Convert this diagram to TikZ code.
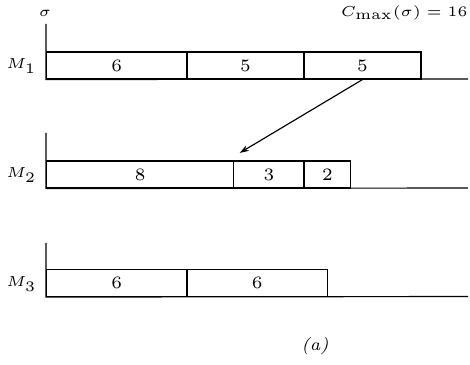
\documentclass[tikz,border=0pt]{standalone}
\usetikzlibrary{calc,arrows.meta}
\begin{document}
\begin{tikzpicture}[x=0.3448pt,y=-0.3448pt,
  every node/.style={font=\tiny},
  job/.style={draw,line width=0.4pt,inner sep=0pt,minimum height=9.31pt,anchor=west,font=\fontsize{6}{7}\selectfont},
  axis/.style={line width=0.4pt},
  mlabel/.style={anchor=east,inner sep=0pt}]
\useasboundingbox (0,0) rectangle (470,365);
% M1
\node[job,minimum width=48.41pt] (j11) at (46,65.5) {6};
\node[job,minimum width=40.34pt] (j12) at (186.4,65.5) {5};
\node[job,minimum width=40.34pt] (j13) at (303.4,65.5) {5};
% M2
\node[job,minimum width=64.55pt] (j21) at (46,174.5) {8};
\node[job,minimum width=24.21pt] (j22) at (233.2,174.5) {3};
\node[job,minimum width=16.14pt] (j23) at (303.4,174.5) {2};
% M3
\node[job,minimum width=48.41pt] (j31) at (46,283) {6};
\node[job,minimum width=48.41pt] (j32) at (186.4,283) {6};
% axes
\coordinate (t1) at (46,24);
\coordinate (e1) at (468,79);
\coordinate (t2) at (46,133);
\coordinate (e2) at (468,188);
\coordinate (t3) at (46,243);
\coordinate (e3) at (468,296.5);
\draw[axis] (t1) -- (j11.south west) -- (e1);
\draw[axis] (t2) -- (j21.south west) -- (e2);
\draw[axis] (t3) -- (j31.south west) -- (e3);
% labels
\node[mlabel] (m1) at (37,66) {$M_1$};
\node[mlabel] (m2) at (37,175) {$M_2$};
\node[mlabel] (m3) at (37,284) {$M_3$};
\node (sig) at (45,13) {$\sigma$};
\node[anchor=east,inner sep=0pt] (cmax) at (468,13) {$C_{\max}(\sigma)=16$};
\node[font=\fontsize{6}{7}\selectfont] (cap) at (315,346) {\textit{(a)}};
% arrow
\coordinate (tip) at ($(j22.north west)+(6.5,-7.5)$);
\draw[line width=0.4pt,-{Stealth[length=3.2pt,width=2.1pt]}] (j13.south) -- (tip);
\end{tikzpicture}
\end{document}
